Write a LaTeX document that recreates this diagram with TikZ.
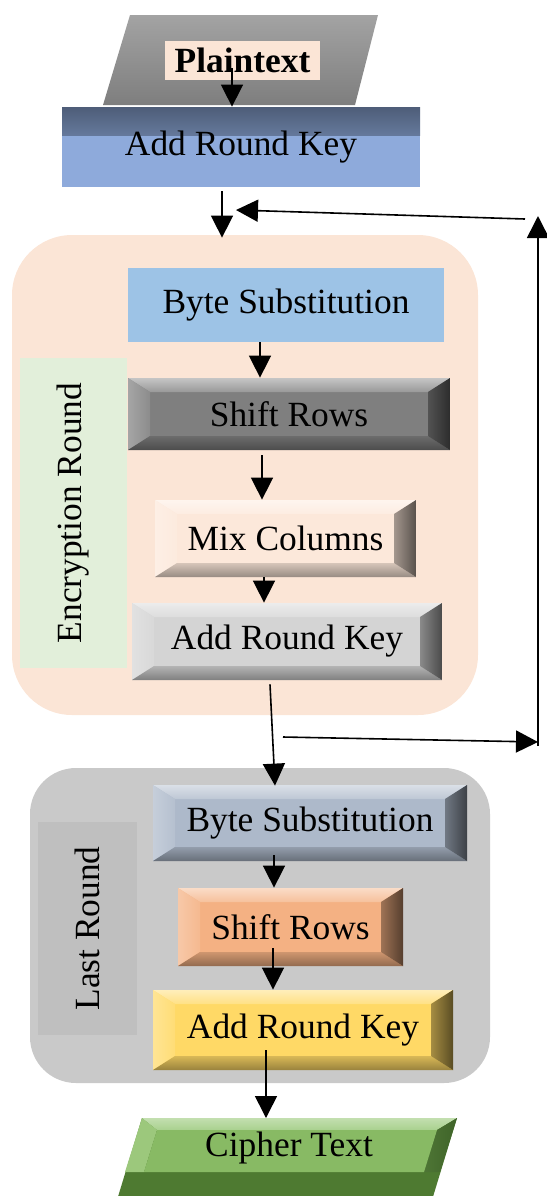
\documentclass[tikz,border=0pt]{standalone}
\usepackage{fontspec}
\setmainfont{Liberation Serif}
\usetikzlibrary{arrows.meta}

\definecolor{peach}{HTML}{FBE5D6}
\definecolor{arkblue}{HTML}{8EAADB}
\definecolor{bsblue}{HTML}{9DC3E6}
\definecolor{srgray}{HTML}{7F7F7F}
\definecolor{mcpeach}{HTML}{FCE8DA}
\definecolor{arkgray}{HTML}{D4D4D4}
\definecolor{labgreen}{HTML}{E2EFDA}
\definecolor{lastgray}{HTML}{C9C9C9}
\definecolor{labgray}{HTML}{BFBFBF}
\definecolor{bsslate}{HTML}{ADB9CA}
\definecolor{srorange}{HTML}{F4B183}
\definecolor{arkyellow}{HTML}{FFD966}
\definecolor{ptgray}{HTML}{8C8C8C}
\definecolor{ctmid}{HTML}{88BA64}
\definecolor{cttop}{HTML}{A9D18E}
\definecolor{ctleft}{HTML}{9CC87C}
\definecolor{ctright}{HTML}{3F6429}
\definecolor{ctbottom}{HTML}{4E7A31}

\tikzset{
  txt/.style={font=\fontsize{17.7}{20}\selectfont, inner sep=0pt},
  box/.style={txt, draw=none, rectangle},
  % raised button look: four sloped edge bands around a flat face
  bevel/.style={box, fill=#1, path picture={
    \coordinate (nw) at (path picture bounding box.north west);
    \coordinate (ne) at (path picture bounding box.north east);
    \coordinate (sw) at (path picture bounding box.south west);
    \coordinate (se) at (path picture bounding box.south east);
    \shade[top color=#1!45!white, bottom color=#1!80!white]
      (nw) -- (ne) -- ([shift={(-11pt,-7pt)}]ne) -- ([shift={(11pt,-7pt)}]nw) -- cycle;
    \shade[left color=#1!70!white, right color=#1!90!white]
      (nw) -- ([shift={(11pt,-7pt)}]nw) -- ([shift={(11pt,7pt)}]sw) -- (sw) -- cycle;
    \shade[top color=#1!85!black, bottom color=#1!60!black]
      (sw) -- (se) -- ([shift={(-11pt,7pt)}]se) -- ([shift={(11pt,7pt)}]sw) -- cycle;
    \shade[left color=#1!65!black, right color=#1!35!black]
      (ne) -- ([shift={(-11pt,-7pt)}]ne) -- ([shift={(-11pt,7pt)}]se) -- (se) -- cycle;
  }},
  % flat face with an inner shadow along the top edge
  topshade/.style={box, fill=#1, path picture={
    \shade[top color=#1!55!black, bottom color=#1]
      (path picture bounding box.north west) rectangle ([yshift=-14pt]path picture bounding box.north east);
  }},
  region/.style={draw=none, rectangle, inner sep=0pt},
  arr/.style={line width=0.8pt, -{Triangle[width=11pt,length=11pt]}},
}

\begin{document}
\begin{tikzpicture}[x=0.5pt, y=-0.5pt]
\useasboundingbox (0,0) rectangle (547,1196);
\clip (0,0) rectangle (547,1196);

% input parallelogram
\shade[top color=ptgray!80!white, bottom color=ptgray!90!black]
  (130,15) -- (378,15) -- (355,105) -- (103,105) -- cycle;
\node[box, fill=peach, minimum width=77.5pt, minimum height=19.5pt, font=\fontsize{17.7}{20}\selectfont\bfseries]
  (pt) at (242.5,60.5) {Plaintext};

% initial key addition
\node[topshade=arkblue, minimum width=179pt, minimum height=40pt] (ark0) at (241,147) {Add Round Key};

% encryption round block
\node[region, fill=peach, rounded corners=30pt, minimum width=233pt, minimum height=240pt] (enc) at (245,475) {};
\node[box, fill=labgreen, minimum width=155pt, minimum height=53.5pt, rotate=90] (encl) at (73.5,513) {Encryption Round};
\node[box, fill=bsblue, minimum width=158pt, minimum height=37pt] (bs1) at (286,305) {Byte Substitution};
\node[bevel=srgray, minimum width=161pt, minimum height=36pt] (sr1) at (289,414) {Shift Rows};
\node[bevel=mcpeach, minimum width=130.5pt, minimum height=38.5pt] (mc) at (285.5,538.5) {Mix Columns};
\node[bevel=arkgray, minimum width=155pt, minimum height=38.5pt] (ark1) at (287,641.5) {Add Round Key};

% last round block
\node[region, fill=lastgray, rounded corners=23pt, minimum width=230pt, minimum height=157.5pt] (last) at (260,925.5) {};
\node[box, fill=labgray, minimum width=106.5pt, minimum height=49.5pt, rotate=90] (lastl) at (87.5,928.5) {Last Round};
\node[bevel=bsslate, minimum width=157pt, minimum height=38pt] (bs2) at (310,823) {Byte Substitution};
\node[bevel=srorange, minimum width=112.5pt, minimum height=39pt] (sr2) at (290.5,927) {Shift Rows};
\node[bevel=arkyellow, minimum width=150pt, minimum height=40pt] (ark2) at (303,1030) {Add Round Key};

% output parallelogram with bevelled edges
\fill[ctbottom] (142,1118) -- (457,1118) -- (432,1200) -- (117,1200) -- cycle;
\shade[top color=cttop!70!white, bottom color=cttop] (142,1118) -- (457,1118) -- (437,1130) -- (157,1130) -- cycle;
\fill[ctleft] (142,1118) -- (157,1130) -- (144,1172) -- (125,1172) -- cycle;
\shade[left color=ctright!80!ctmid, right color=ctright] (457,1118) -- (437,1130) -- (424,1172) -- (440,1172) -- cycle;
\fill[ctmid] (157,1130) -- (437,1130) -- (424,1172) -- (144,1172) -- cycle;
\node[txt] (ct) at (289,1148) {Cipher Text};
\coordinate (ctin) at (266,1118);

% feedback loop around the encryption round
\coordinate (loopA) at (283,737);
\coordinate (loopB) at (538,742);
\coordinate (loopC) at (538,746);
\coordinate (loopD) at (538,216);
\coordinate (loopE) at (525,219);
\coordinate (loopF) at (236,210);

% connectors
\draw[arr] ([xshift=-5.25pt,yshift=-3.75pt]pt.center) -- ([xshift=-4.5pt]ark0.north);
\draw[arr] ([xshift=-9.5pt,yshift=-2pt]ark0.south) -- ([xshift=-11.5pt,yshift=-1.5pt]enc.north);
\draw[arr] ([xshift=-13pt]bs1.south) -- ([xshift=-14.5pt]sr1.north);
\draw[arr] ([xshift=-13.5pt,yshift=-2.5pt]sr1.south) -- ([xshift=-11.75pt]mc.north);
\draw[arr] ([xshift=-10.75pt]mc.south) -- ([xshift=-11.5pt]ark1.north);
\draw[arr] ([xshift=-8.5pt,yshift=-2pt]ark1.south) -- ([xshift=-17.5pt,yshift=-0.5pt]bs2.north);
\draw[arr] ([xshift=-18pt,yshift=3pt]bs2.south) -- ([xshift=-8.25pt]sr2.north);
\draw[arr] ([xshift=-8.75pt,yshift=9pt]sr2.south) -- ([xshift=-15pt]ark2.north);
\draw[arr] ([xshift=-18.5pt,yshift=10pt]ark2.south) -- (ctin);
\draw[arr] (loopA) -- (loopB);
\draw[arr] (loopC) -- (loopD);
\draw[arr] (loopE) -- (loopF);
\end{tikzpicture}
\end{document}
